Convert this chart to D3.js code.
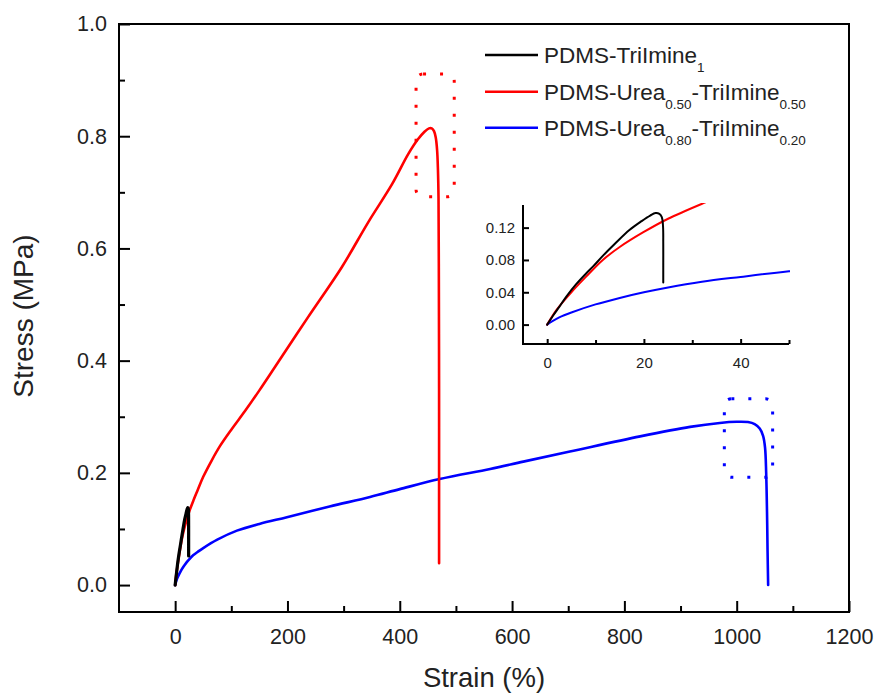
<!DOCTYPE html>
<html>
<head>
<meta charset="utf-8">
<script src="https://cdn.jsdelivr.net/npm/d3@7"></script>
<style>
  body { margin: 0; background: #fff; }
  svg { display: block; font-family: "Liberation Sans", Arial, sans-serif; }
</style>
</head>
<body>
<svg id="chart" width="876" height="693"></svg>
<script>
// ---------- data (strain %, stress MPa) ----------
const seriesNames = ["PDMS-TriImine", "PDMS-Urea0.50-TriImine0.50", "PDMS-Urea0.80-TriImine0.20"];
const seriesColors = ["#000000", "#ff0000", "#0000ff"];

const blackCurve = [
  [0,0],[1.2,0.011],[2.5,0.022],[4,0.035],[6,0.05],[8,0.063],[9.5,0.072],[11.5,0.085],[14,0.1],
  [17,0.117],[19.5,0.128],[21.3,0.135],[22.4,0.138],[23.2,0.137],[23.7,0.133],[23.95,0.122],[24,0.1],[24,0.075],[24,0.052]
];
const redCurve = [
  [0,0],[1.9,0.018],[5,0.04],[8,0.059],[11.5,0.08],[15,0.096],[19.8,0.114],[25,0.131],
  [33,0.152],[40,0.169],[50,0.193],[65,0.222],[80,0.248],[100,0.277],[125,0.311],[150,0.347],
  [178,0.389],[237,0.478],[297,0.567],[344,0.647],[386,0.714],[415,0.768],[432,0.794],[444,0.808],
  [452,0.814],[457,0.814],[461,0.809],[464,0.798],[466.5,0.775],[468,0.74],[469,0.69],[469.6,0.55],
  [470,0.35],[470,0.15],[470,0.039]
];
const blueCurve = [
  [0,0],[1,0.004],[2.5,0.009],[5,0.015],[10,0.025],[15,0.033],[20,0.04],[25,0.046],[32,0.053],[40,0.059],
  [50,0.066],[75,0.081],[110,0.097],[150,0.109],[199,0.121],[275,0.14],[347,0.157],[400,0.171],
  [471,0.189],[561,0.207],[620,0.22],[703,0.238],[828,0.265],[917,0.282],[970,0.289],[1000,0.291],
  [1020,0.2905],[1032,0.287],[1041,0.279],[1047,0.266],[1050.5,0.245],[1052.5,0.2],[1054,0.13],[1055,0.06],[1056,0]
];
const curves = [blackCurve, redCurve, blueCurve];

// dotted highlight boxes: [strainMin, strainMax, stressMin, stressMax]
const boxRanges = [[429, 497, 0.692, 0.911], [978, 1064, 0.192, 0.332]];
const boxColors = ["#ff0000", "#0000ff"];

// tick values
const xMajorTicks = [0, 200, 400, 600, 800, 1000, 1200];
const xMinorTicks = [100, 300, 500, 700, 900, 1100];
const yMajorTicks = [0.0, 0.2, 0.4, 0.6, 0.8, 1.0];
const yMinorTicks = [0.1, 0.3, 0.5, 0.7, 0.9];
const insetXMajor = [0, 20, 40];
const insetXMinor = [10, 30, 50];
const insetYTicks = [0.00, 0.04, 0.08, 0.12];

// ---------- layout ----------
const svg = d3.select("#chart");
const x = d3.scaleLinear().domain([-100, 1200]).range([119, 849]);
const y = d3.scaleLinear().domain([-0.048, 1.0]).range([612, 24]);

// frame
svg.append("rect").attr("x", 119).attr("y", 24).attr("width", 730).attr("height", 588)
  .attr("fill", "none").attr("stroke", "#000").attr("stroke-width", 2);

function styleAxis(g, fs) {
  g.select(".domain").remove();
  g.selectAll(".tick line").attr("stroke", "#000").attr("stroke-width", 2);
  g.selectAll(".tick text").attr("fill", "#222").style("font-size", fs + "px")
    .style("font-family", "'Liberation Sans', Arial, sans-serif");
}

// main axes
const gxMaj = svg.append("g").attr("transform", "translate(0,612)")
  .call(d3.axisBottom(x).tickValues(xMajorTicks).tickSize(-11).tickPadding(16.5).tickFormat(d3.format("d")));
styleAxis(gxMaj, 21.5);
const gxMin = svg.append("g").attr("transform", "translate(0,612)")
  .call(d3.axisBottom(x).tickValues(xMinorTicks).tickSize(-6).tickFormat(""));
styleAxis(gxMin, 21.5);
const gyMaj = svg.append("g").attr("transform", "translate(119,0)")
  .call(d3.axisLeft(y).tickValues(yMajorTicks).tickSize(-11).tickPadding(12).tickFormat(d3.format(".1f")));
styleAxis(gyMaj, 21.5);
const gyMin = svg.append("g").attr("transform", "translate(119,0)")
  .call(d3.axisLeft(y).tickValues(yMinorTicks).tickSize(-6).tickFormat(""));
styleAxis(gyMin, 21.5);

// axis titles
svg.append("text").attr("x", 484).attr("y", 687).attr("text-anchor", "middle")
  .style("font-size", "27.5px").attr("fill", "#222").text("Strain (%)");
svg.append("text").attr("transform", "translate(33,316) rotate(-90)").attr("text-anchor", "middle")
  .style("font-size", "28px").attr("fill", "#222").text("Stress (MPa)");

// main curves
const line = d3.line().x(d => x(d[0])).y(d => y(d[1])).curve(d3.curveCatmullRom.alpha(0.5));
[2, 1, 0].forEach(i => {
  svg.append("path").datum(curves[i]).attr("d", line).attr("fill", "none")
    .attr("stroke", seriesColors[i]).attr("stroke-width", i === 0 ? 3.2 : 2.6)
    .attr("stroke-linejoin", "round").attr("stroke-linecap", "round");
});

// dotted boxes
boxRanges.forEach((b, i) => {
  svg.append("rect")
    .attr("x", x(b[0])).attr("y", y(b[3]))
    .attr("width", x(b[1]) - x(b[0])).attr("height", y(b[2]) - y(b[3]))
    .attr("rx", 7).attr("ry", 7)
    .attr("fill", "none").attr("stroke", boxColors[i]).attr("stroke-width", 3)
    .attr("stroke-dasharray", "3 14");
});

// legend
const legendRows = [
  [{t: "PDMS-TriImine"}, {t: "1", sub: true}],
  [{t: "PDMS-Urea"}, {t: "0.50", sub: true}, {t: "-TriImine"}, {t: "0.50", sub: true}],
  [{t: "PDMS-Urea"}, {t: "0.80", sub: true}, {t: "-TriImine"}, {t: "0.20", sub: true}]
];
const legendY = [55, 91.7, 127.7];
legendRows.forEach((row, i) => {
  svg.append("line").attr("x1", 485).attr("x2", 538).attr("y1", legendY[i]).attr("y2", legendY[i])
    .attr("stroke", seriesColors[i]).attr("stroke-width", 2.6);
  const t = svg.append("text").attr("x", 544).attr("y", legendY[i] + 8.3)
    .style("font-size", "22.5px").attr("fill", "#222");
  let shifted = false;
  row.forEach(p => {
    const ts = t.append("tspan").text(p.t);
    if (p.sub && !shifted) { ts.attr("dy", 8.5).style("font-size", "13.5px"); shifted = true; }
    else if (!p.sub && shifted) { ts.attr("dy", -8.5); shifted = false; }
    else if (p.sub) { ts.style("font-size", "13.5px"); }
  });
});

// ---------- inset ----------
const xi = d3.scaleLinear().domain([-5, 50]).range([523, 789]);
const yi = d3.scaleLinear().domain([-0.024, 0.148]).range([344, 205]);

svg.append("defs").append("clipPath").attr("id", "insetClip")
  .append("rect").attr("x", 523).attr("y", 203).attr("width", 267).attr("height", 141);

const lineI = d3.line().x(d => xi(d[0])).y(d => yi(d[1])).curve(d3.curveCatmullRom.alpha(0.5));
const gi = svg.append("g").attr("clip-path", "url(#insetClip)");
[2, 1, 0].forEach(i => {
  gi.append("path").datum(curves[i]).attr("d", lineI).attr("fill", "none")
    .attr("stroke", seriesColors[i]).attr("stroke-width", 2)
    .attr("stroke-linejoin", "round").attr("stroke-linecap", "round");
});

// inset axis lines
svg.append("path").attr("d", `M${xi(-5)},${yi(0.148)}V${yi(-0.024)}H${xi(50)}`)
  .attr("fill", "none").attr("stroke", "#000").attr("stroke-width", 2);

const gix = svg.append("g").attr("transform", "translate(0,344)")
  .call(d3.axisBottom(xi).tickValues(insetXMajor).tickSize(-5).tickPadding(13).tickFormat(d3.format("d")));
styleAxis(gix, 15);
const gixm = svg.append("g").attr("transform", "translate(0,344)")
  .call(d3.axisBottom(xi).tickValues(insetXMinor).tickSize(-4).tickFormat(""));
styleAxis(gixm, 15);
const giy = svg.append("g").attr("transform", "translate(523,0)")
  .call(d3.axisLeft(yi).tickValues(insetYTicks).tickSize(-6).tickPadding(8).tickFormat(d3.format(".2f")));
styleAxis(giy, 15);
</script>
</body>
</html>
